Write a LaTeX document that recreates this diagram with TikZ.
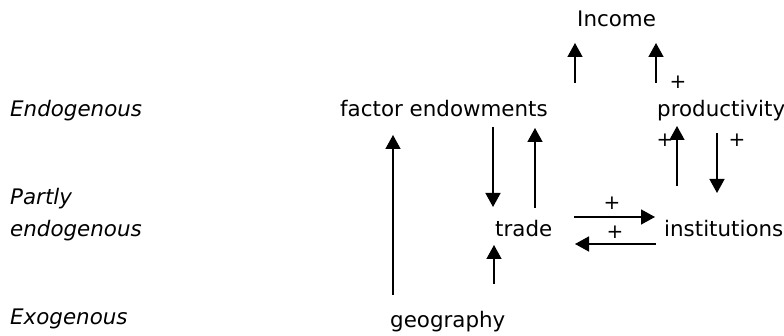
\documentclass[tikz,border=0pt]{standalone}
\usepackage{fontspec}
\setmainfont{DejaVu Sans}
\usetikzlibrary{arrows.meta,calc}
\begin{document}
\begin{tikzpicture}[x=1pt,y=-1pt,
  lbl/.style={anchor=base west,inner sep=0pt,font=\fontsize{21.4}{24}\selectfont},
  cat/.style={anchor=base west,inner sep=0pt,font=\fontsize{21.4}{24}\selectfont\itshape},
  plus/.style={inner sep=0pt,font=\fontsize{20}{22}\selectfont},
  arr/.style={line width=1.5pt,-{Triangle[length=14pt,width=15pt]}}]
\useasboundingbox[fill=white] (0,0) rectangle (784,336);
% category labels
\node[cat] (cEndo) at (10,117) {Endogenous};
\node[cat] (cPartlyA) at (10,205) {Partly};
\node[cat] (cPartlyB) at (10,237) {endogenous};
\node[cat] (cExo) at (10,325) {Exogenous};
% variables
\node[lbl] (inc) at (577,27) {Income};
\node[lbl] (fe) at (340,117) {factor endowments};
\node[lbl] (prod) at (657,117) {productivity};
\node[lbl] (trade) at (495,237) {trade};
\node[lbl] (inst) at (664,237) {institutions};
\node[lbl] (geo) at (390,327) {geography};
% connectors
\draw[arr] ($(fe.base west)+(235,-34)$) -- ($(inc.base west)+(-2,16)$);
\draw[arr] ($(prod.base west)+(-1,-34)$) -- ($(inc.base west)+(79,16)$);
\draw[arr] ($(geo.base west)+(3,-32)$) -- ($(fe.base west)+(53,18)$);
\draw[arr] ($(fe.base west)+(153,10)$) -- ($(trade.base west)+(-2,-30)$);
\draw[arr] ($(trade.base west)+(40,-29)$) -- ($(fe.base west)+(195,11)$);
\draw[arr] ($(geo.base west)+(104,-43)$) -- ($(trade.base west)+(-1,8)$);
\draw[arr] ($(trade.base west)+(79,-20)$) -- ($(inst.base west)+(-9,-20)$);
\draw[arr] ($(inst.base west)+(-8,7)$) -- ($(trade.base west)+(80,7)$);
\draw[arr] ($(inst.base west)+(13,-51)$) -- ($(prod.base west)+(20,9)$);
\draw[arr] ($(prod.base west)+(60,16)$) -- ($(inst.base west)+(53,-44)$);
% signs
\node[plus] (p1) at (678,82) {+};
\node[plus] (p2) at (612,203) {+};
\node[plus] (p3) at (615,232) {+};
\node[plus] (p4) at (665,140) {+};
\node[plus] (p5) at (737,140) {+};
\end{tikzpicture}
\end{document}
